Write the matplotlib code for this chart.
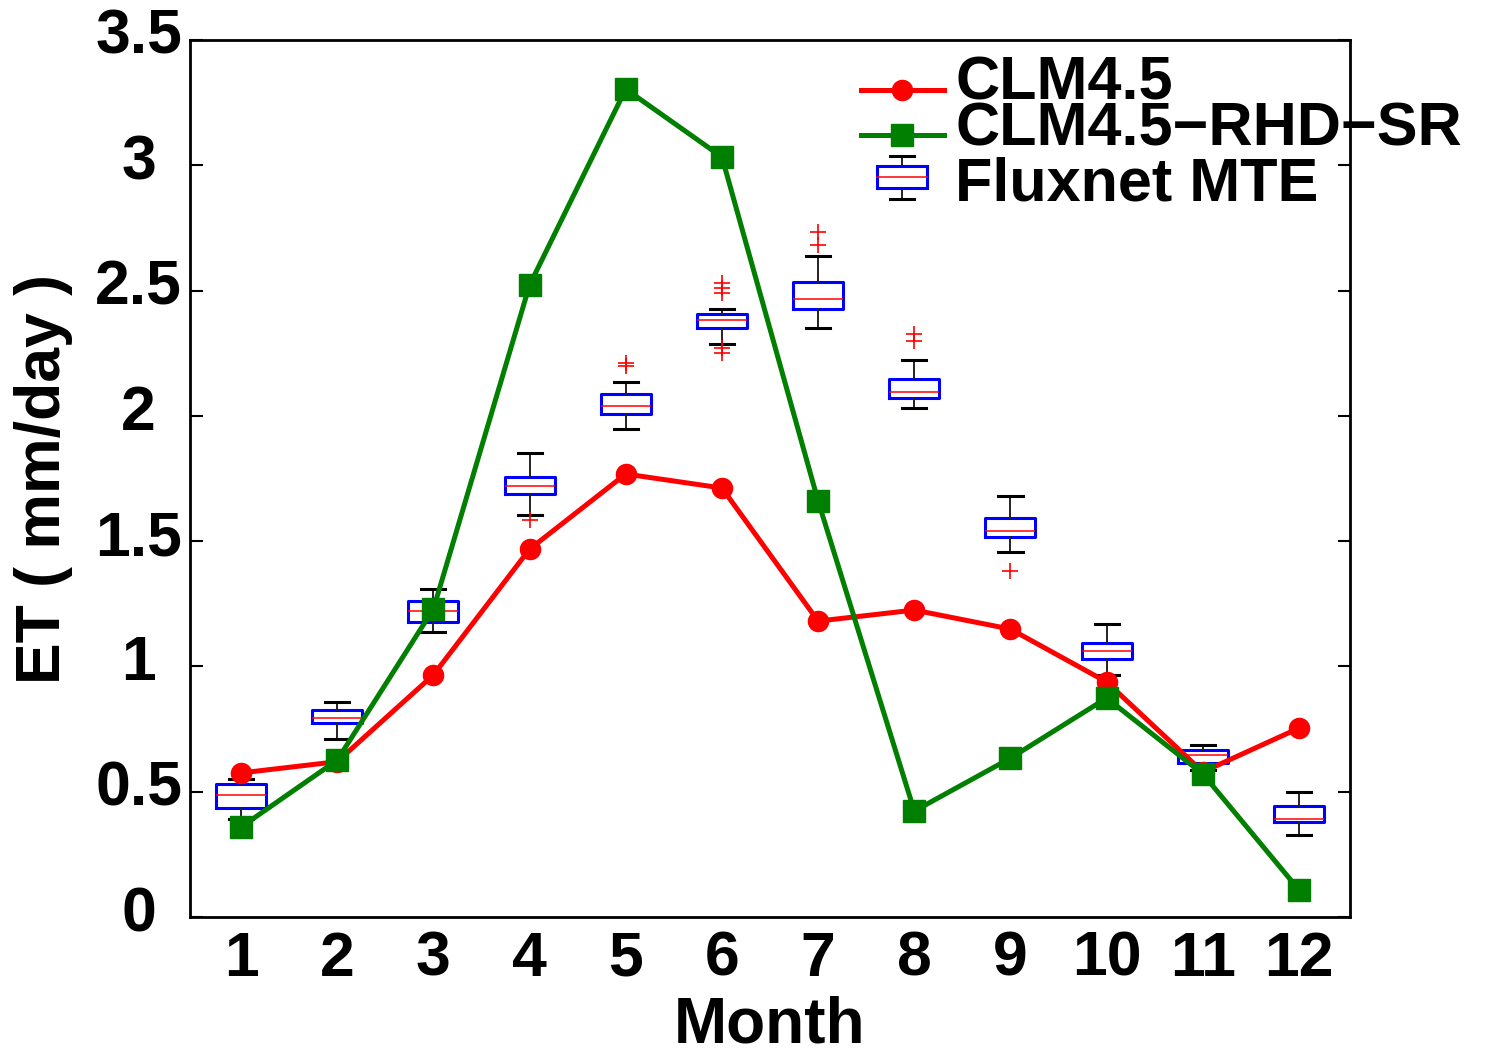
import numpy as np
import matplotlib
matplotlib.use("Agg")
import matplotlib.pyplot as plt
from matplotlib.legend_handler import HandlerLine2D, HandlerBase
from matplotlib.lines import Line2D
from matplotlib.patches import Rectangle
from matplotlib.transforms import ScaledTranslation

# ---- DATA ----
months = np.arange(1, 13)
clm45 = [0.575, 0.620, 0.966, 1.468, 1.768, 1.712, 1.181, 1.225, 1.149, 0.938, 0.579, 0.754]
clm45_rhd_sr = [0.359, 0.626, 1.229, 2.522, 3.304, 3.033, 1.660, 0.423, 0.634, 0.874, 0.571, 0.108]

# Fluxnet MTE monthly spread (box statistics)
mte_whishi = [0.551, 0.859, 1.308, 1.850, 2.136, 2.425, 2.638, 2.221, 1.680, 1.168, 0.686, 0.498]
mte_q3 = [0.530, 0.826, 1.262, 1.757, 2.086, 2.405, 2.533, 2.147, 1.593, 1.093, 0.666, 0.443]
mte_med = [0.487, 0.795, 1.222, 1.721, 2.040, 2.382, 2.467, 2.094, 1.540, 1.061, 0.646, 0.390]
mte_q1 = [0.434, 0.773, 1.176, 1.688, 2.007, 2.349, 2.425, 2.072, 1.518, 1.030, 0.613, 0.380]
mte_whislo = [0.391, 0.709, 1.136, 1.605, 1.946, 2.287, 2.350, 2.030, 1.455, 0.966, 0.587, 0.326]
mte_fliers = [[], [], [], [1.584], [2.212, 2.199], [2.53, 2.51, 2.49, 2.27, 2.25],
              [2.732, 2.681], [2.326, 2.298], [1.381], [], [], []]

yticks = [0, 0.5, 1, 1.5, 2, 2.5, 3, 3.5]
ytick_labels = ["0", "0.5", "1", "1.5", "2", "2.5", "3", "3.5"]

RED = "#ff0000"
GREEN = "#007f00"


# legend handlers: line glyph sits a little low, box glyph drawn by hand
class LowLine(HandlerLine2D):
    def create_artists(self, legend, orig_handle, xdescent, ydescent,
                       width, height, fontsize, trans):
        arts = super().create_artists(legend, orig_handle, xdescent, ydescent,
                                      width, height, fontsize, trans)
        for a in arts:
            a.set_ydata(np.asarray(a.get_ydata(), dtype=float) - 0.19 * fontsize)
        return arts


class BoxGlyph(HandlerBase):
    def create_artists(self, legend, orig_handle, xdescent, ydescent,
                       width, height, fontsize, trans):
        cx = width / 2 - xdescent
        cy = 0.39 * fontsize
        bw, bh = 0.82 * fontsize, 0.36 * fontsize
        wh, cw = 0.35 * fontsize, 0.39 * fontsize
        arts = [
            Line2D([cx, cx], [cy - wh, cy + wh], color="#222222", lw=1.4),
            Line2D([cx - cw / 2, cx + cw / 2], [cy + wh, cy + wh], color="black", lw=2.2),
            Line2D([cx - cw / 2, cx + cw / 2], [cy - wh, cy - wh], color="black", lw=2.2),
            Rectangle((cx - bw / 2, cy - bh / 2), bw, bh, facecolor="white",
                      edgecolor="blue", lw=2.2),
            Line2D([cx - bw / 2, cx + bw / 2], [cy, cy], color=RED, lw=1.1),
        ]
        for a in arts:
            a.set_transform(trans)
        return arts


plt.rcParams['font.family'] = ['Liberation Sans', 'DejaVu Sans']
plt.rcParams['font.weight'] = 'bold'
plt.rcParams['axes.linewidth'] = 2.0

fig = plt.figure(figsize=(15, 10.49), dpi=100)
ax = fig.add_axes([0.1267, 0.1258, 0.7733, 0.8361])

# ---- BOXES ----
stats = [dict(med=m, q1=a, q3=b, whislo=lo, whishi=hi, fliers=f)
         for m, a, b, lo, hi, f in zip(mte_med, mte_q1, mte_q3, mte_whislo, mte_whishi, mte_fliers)]
ax.bxp(stats, positions=months, widths=0.52, capwidths=0.25, manage_ticks=False,
       boxprops=dict(color="blue", linewidth=2.2),
       medianprops=dict(color=RED, linewidth=1.1),
       whiskerprops=dict(color="#222222", linewidth=1.4),
       capprops=dict(color="black", linewidth=2.2),
       flierprops=dict(marker="+", markeredgecolor=RED, markersize=11, markeredgewidth=1.2))

# ---- MODEL LINES ----
l1, = ax.plot(months, clm45, "-o", color=RED, lw=3.6, ms=14.5, zorder=5, label="CLM4.5")
l2, = ax.plot(months, clm45_rhd_sr, "-s", color=GREEN, lw=3.6, ms=16, zorder=6,
              label="CLM4.5\u2212RHD\u2212SR")

ax.set_xlim(0.47, 12.53)
ax.set_ylim(0, 3.5)
ax.set_xticks(months)
ax.set_xticklabels([str(m) for m in months])
ax.set_yticks(yticks)
ax.set_yticklabels(ytick_labels)
ax.tick_params(axis="x", length=0, pad=9, labelsize=45)
ax.tick_params(axis="y", direction="in", length=9, width=1.5, right=True,
               labelsize=45, pad=37)
lift = ScaledTranslation(0, 6.5 / 72, fig.dpi_scale_trans)
for lbl in ax.get_yticklabels():
    lbl.set_horizontalalignment("center")
    lbl.set_transform(lbl.get_transform() + lift)

ax.set_xlabel("Month", fontsize=46, fontweight="bold", labelpad=5)
ax.set_ylabel("ET ( mm/day )", fontsize=45, fontweight="bold", labelpad=16)

# ---- LEGEND ----
leg_kw = dict(frameon=False, fontsize=44, handlelength=1.36, handletextpad=0.19,
              borderpad=0, borderaxespad=0, loc="upper left")
leg1 = ax.legend(handles=[l1, l2], bbox_to_anchor=(0.578, 0.982), labelspacing=-0.19,
                 handler_map={Line2D: LowLine()}, numpoints=1, **leg_kw)
ax.add_artist(leg1)
mte_proxy = Rectangle((0, 0), 1, 1)
ax.legend(handles=[mte_proxy], labels=["Fluxnet MTE"], bbox_to_anchor=(0.578, 0.8666),
          handler_map={mte_proxy: BoxGlyph()}, **leg_kw)

fig.savefig("out.png", dpi=100)
